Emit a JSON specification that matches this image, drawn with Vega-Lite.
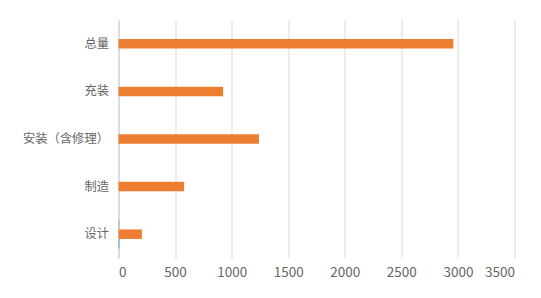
{
  "$schema": "https://vega.github.io/schema/vega-lite/v6.json",
  "autosize": "none",
  "width": 396,
  "height": 238,
  "padding": {"left": 118.5, "top": 20, "right": 26.5, "bottom": 40},
  "background": "white",
  "config": {"view": {"stroke": null}, "font": "Noto Sans CJK SC"},
  "data": {
    "values": [
      {"cat": "总量", "series": "s2", "value": 2960},
      {"cat": "充装", "series": "s2", "value": 925},
      {"cat": "安装（含修理）", "series": "s2", "value": 1242},
      {"cat": "制造", "series": "s2", "value": 580},
      {"cat": "设计", "series": "s2", "value": 207},
      {"cat": "设计", "series": "s1", "value": 8},
      {"cat": "设计", "series": "s3", "value": 8}
    ]
  },
  "mark": {"type": "bar"},
  "encoding": {
    "y": {
      "field": "cat",
      "type": "nominal",
      "sort": ["总量", "充装", "安装（含修理）", "制造", "设计"],
      "scale": {"paddingInner": 0, "paddingOuter": 0},
      "axis": {
        "title": null,
        "labelFontSize": 12.3,
        "labelColor": "#666666",
        "ticks": false,
        "domainColor": "#d9d9d9",
        "domainWidth": 1.5,
        "labelPadding": 10,
        "grid": false
      }
    },
    "x": {
      "field": "value",
      "type": "quantitative",
      "scale": {"domain": [0, 3500], "nice": false},
      "axis": {
        "title": null,
        "values": [0, 500, 1000, 1500, 2000, 2500, 3000, 3500],
        "format": "d",
        "grid": true,
        "gridColor": "#d9d9d9",
        "domain": false,
        "ticks": false,
        "labelColor": "#666666",
        "labelFontSize": 13.5,
        "labelPadding": 7
      }
    },
    "yOffset": {
      "field": "series",
      "type": "nominal",
      "sort": ["s3", "s2", "s1"],
      "scale": {"paddingInner": 0, "paddingOuter": 1.139}
    },
    "color": {
      "field": "series",
      "type": "nominal",
      "scale": {"domain": ["s1", "s2", "s3"], "range": ["#5B9BD5", "#ED7D31", "#A5A5A5"]},
      "legend": null
    }
  }
}
